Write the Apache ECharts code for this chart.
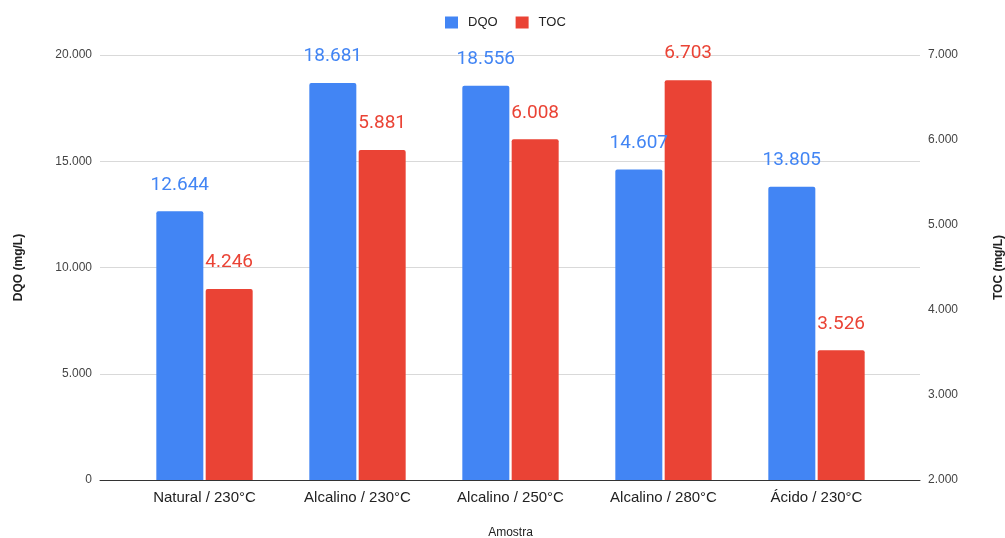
<!DOCTYPE html>
<html>
<head>
<meta charset="utf-8">
<script src="https://cdn.jsdelivr.net/npm/echarts@6/dist/echarts.min.js"></script>
<style>
  html, body { margin: 0; padding: 0; background: #fff; }
  #chart { width: 1005px; height: 538px; }
</style>
</head>
<body>
<div id="chart"></div>
<script>
// Samples and measured values (mg/L)
const categories = ['Natural / 230°C', 'Alcalino / 230°C', 'Alcalino / 250°C', 'Alcalino / 280°C', 'Ácido / 230°C'];
const dqoValues = [12644, 18681, 18556, 14607, 13805];
const tocValues = [4246, 5881, 6008, 6703, 3526];

// Axis ranges
const dqoAxis = { min: 0, max: 20000, interval: 5000 };
const tocAxis = { min: 2000, max: 7000, interval: 1000 };

// Thousands separator as a dot (pt-BR style)
function fmt(v) {
  const s = String(Math.round(v));
  return s.replace(/\B(?=(\d{3})+(?!\d))/g, '.');
}

const BLUE = '#4285F4';
const RED = '#EA4335';
const FONT = '"Liberation Sans", Arial, sans-serif';

const chart = echarts.init(document.getElementById('chart'), null, { renderer: 'canvas' });

chart.setOption({
  backgroundColor: '#ffffff',
  animation: false,
  textStyle: { fontFamily: FONT },
  legend: {
    top: 11,
    left: 440,
    itemWidth: 13,
    itemHeight: 12,
    itemGap: 18,
    icon: 'rect',
    textStyle: { fontFamily: FONT, fontSize: 13, color: '#222', padding: [0, 0, 0, 5] },
    data: ['DQO', 'TOC']
  },
  grid: [
    // frame: gridlines, value axes and baseline
    { left: 100, right: 85, top: 55, bottom: 58, outerBoundsMode: 'none', containLabel: false },
    // bars
    { left: 128, right: 112, top: 55, bottom: 58, outerBoundsMode: 'none', containLabel: false }
  ],
  xAxis: [
    {
      gridIndex: 0, type: 'value', min: 0, max: 1,
      axisLine: { show: true, lineStyle: { color: '#333', width: 1 } },
      axisTick: { show: false }, axisLabel: { show: false }, splitLine: { show: false }
    },
    {
      gridIndex: 1, type: 'category', data: categories,
      axisLine: { show: false }, axisTick: { show: false },
      axisLabel: { margin: 10, fontFamily: FONT, fontSize: 15, color: '#222' },
      name: 'Amostra', nameLocation: 'middle', nameGap: 47,
      nameTextStyle: { fontFamily: FONT, fontSize: 12, color: '#222' }
    }
  ],
  yAxis: [
    {
      gridIndex: 0, type: 'value', position: 'left',
      min: dqoAxis.min, max: dqoAxis.max, interval: dqoAxis.interval,
      axisLine: { show: false }, axisTick: { show: false },
      axisLabel: { margin: 8, fontFamily: FONT, fontSize: 12, color: '#444', formatter: fmt },
      splitLine: { show: true, lineStyle: { color: '#d9d9d9', width: 1 } },
      name: 'DQO (mg/L)', nameLocation: 'middle', nameGap: 75, nameRotate: 90,
      nameTextStyle: { fontFamily: FONT, fontSize: 12, fontWeight: 'bold', color: '#222' }
    },
    {
      gridIndex: 0, type: 'value', position: 'right',
      min: tocAxis.min, max: tocAxis.max, interval: tocAxis.interval,
      axisLine: { show: false }, axisTick: { show: false },
      axisLabel: { margin: 8, fontFamily: FONT, fontSize: 12, color: '#444', formatter: fmt },
      splitLine: { show: false },
      name: 'TOC (mg/L)', nameLocation: 'middle', nameGap: 73, nameRotate: 90,
      nameTextStyle: { fontFamily: FONT, fontSize: 12, fontWeight: 'bold', color: '#222' }
    },
    {
      gridIndex: 1, type: 'value', show: false,
      min: dqoAxis.min, max: dqoAxis.max, interval: dqoAxis.interval
    },
    {
      gridIndex: 1, type: 'value', show: false,
      min: tocAxis.min, max: tocAxis.max, interval: tocAxis.interval
    }
  ],
  series: [
    {
      name: 'DQO', type: 'bar', xAxisIndex: 1, yAxisIndex: 2,
      data: dqoValues, barWidth: 47, barGap: '5%',
      itemStyle: { color: BLUE, borderRadius: [2, 2, 0, 0] },
      label: {
        show: true, position: 'top', distance: 17,
        formatter: p => fmt(p.value),
        fontFamily: 'Roboto, sans-serif', fontSize: 19, color: BLUE
      }
    },
    {
      name: 'TOC', type: 'bar', xAxisIndex: 1, yAxisIndex: 3,
      data: tocValues, barWidth: 47, barGap: '5%',
      itemStyle: { color: RED, borderRadius: [2, 2, 0, 0] },
      label: {
        show: true, position: 'top', distance: 17,
        formatter: p => fmt(p.value),
        fontFamily: 'Roboto, sans-serif', fontSize: 19, color: RED
      }
    }
  ]
});
</script>
</body>
</html>
